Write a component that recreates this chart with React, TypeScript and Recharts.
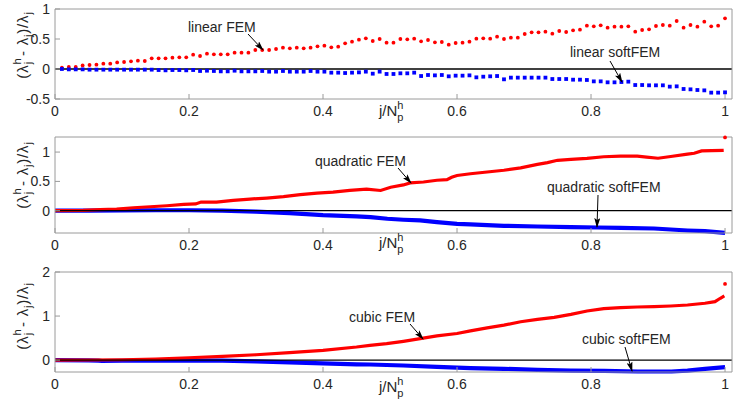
import React from 'react';
import {
  ComposedChart,
  Line,
  Scatter,
  XAxis,
  YAxis,
  ReferenceLine,
} from 'recharts';

// ---- panel 1: linear (97 eigenvalues, j/N = k/97) ----
const LIN_N = 97;
const LIN_FEM = [
  0.022, 0.033, 0.033, 0.06, 0.067, 0.072, 0.089, 0.089, 0.11, 0.117, 0.128, 0.139, 0.133, 0.178, 0.178, 0.178,
  0.189, 0.194, 0.194, 0.239, 0.217, 0.256, 0.244, 0.244, 0.244, 0.272, 0.272, 0.272, 0.317, 0.317, 0.317, 0.333,
  0.356, 0.344, 0.356, 0.344, 0.356, 0.378, 0.389, 0.361, 0.372, 0.428, 0.456, 0.489, 0.511, 0.467, 0.5, 0.439,
  0.439, 0.5, 0.494, 0.506, 0.461, 0.483, 0.444, 0.45, 0.406, 0.433, 0.439, 0.456, 0.506, 0.511, 0.506, 0.539, 0.5,
  0.522, 0.522, 0.583, 0.611, 0.611, 0.622, 0.589, 0.633, 0.617, 0.644, 0.656, 0.722, 0.711, 0.728, 0.689, 0.706,
  0.706, 0.711, 0.622, 0.65, 0.661, 0.717, 0.733, 0.722, 0.8, 0.689, 0.733, 0.706, 0.789, 0.711, 0.722, 0.844,
];
const LIN_SOFT = [
  0, -0.006, -0.006, -0.006, -0.011, -0.011, -0.011, -0.011, -0.011, -0.011, -0.011, -0.011, -0.011, -0.011, -0.017,
  -0.022, -0.017, -0.017, -0.022, -0.017, -0.033, -0.028, -0.033, -0.039, -0.039, -0.028, -0.039, -0.039, -0.039,
  -0.033, -0.044, -0.044,
  -0.033, -0.044, -0.044, -0.044, -0.033, -0.044, -0.044, -0.061, -0.061, -0.067, -0.061, -0.056, -0.044, -0.078,
  -0.044, -0.083, -0.083, -0.072, -0.072, -0.061, -0.117, -0.1, -0.106, -0.1, -0.122, -0.111, -0.111, -0.106,
  -0.139, -0.128, -0.122, -0.117, -0.172,
  -0.144, -0.144, -0.144, -0.144, -0.144, -0.144, -0.167, -0.167, -0.167, -0.178, -0.178, -0.183, -0.206, -0.206,
  -0.222, -0.222, -0.217, -0.211, -0.267, -0.267, -0.272, -0.272, -0.272, -0.294, -0.289, -0.333, -0.339, -0.35,
  -0.356, -0.394, -0.394, -0.389,
];

// ---- panel 2: quadratic ----
const QUAD_FEM_X = [
  0, 0.042, 0.067, 0.092, 0.117, 0.142, 0.167, 0.192, 0.21, 0.218, 0.241, 0.266, 0.291, 0.316, 0.341, 0.366, 0.391,
  0.415, 0.44, 0.465, 0.486, 0.501, 0.52, 0.53, 0.55, 0.57, 0.585, 0.592, 0.6, 0.62, 0.645, 0.67, 0.695, 0.72,
  0.735, 0.75, 0.77, 0.794, 0.819, 0.844, 0.869, 0.883, 0.9, 0.919, 0.944, 0.954, 0.965, 0.98, 0.998,
];
const QUAD_FEM = [
  0, 0.006, 0.017, 0.028, 0.051, 0.068, 0.085, 0.108, 0.115, 0.148, 0.148, 0.176, 0.199, 0.216, 0.239, 0.273, 0.301,
  0.318, 0.347, 0.369, 0.345, 0.4, 0.44, 0.474, 0.49, 0.52, 0.53, 0.57, 0.6, 0.63, 0.66, 0.69, 0.73, 0.79,
  0.82, 0.86, 0.874, 0.891, 0.92, 0.931, 0.931, 0.915, 0.895, 0.925, 0.966, 0.98, 1.02, 1.023, 1.03,
];
const QUAD_SOFT_X = [
  0, 0.05, 0.1, 0.15, 0.2, 0.25, 0.3, 0.35, 0.4, 0.45, 0.471, 0.496, 0.52, 0.545, 0.57, 0.6, 0.62, 0.67, 0.72, 0.77,
  0.81, 0.844, 0.894, 0.944, 0.97, 1.0,
];
const QUAD_SOFT = [
  0, 0.002, 0.005, 0.008, 0.008, 0.002, -0.017, -0.04, -0.075, -0.097, -0.109, -0.137, -0.154, -0.166, -0.194,
  -0.223, -0.234, -0.257, -0.269, -0.28, -0.286, -0.291, -0.303, -0.337, -0.349, -0.377,
];
const QUAD_LAST = [{ x: 1.0, y: 1.25 }];

// ---- panel 3: cubic ----
const CUB_FEM_X = [
  0, 0.05, 0.1, 0.15, 0.2, 0.25, 0.3, 0.35, 0.4, 0.45, 0.47, 0.495, 0.52, 0.545, 0.57, 0.6, 0.62, 0.645, 0.67,
  0.695, 0.72, 0.745, 0.77, 0.794, 0.819, 0.844, 0.869, 0.894, 0.919, 0.944, 0.97, 0.985, 0.993, 0.999,
];
const CUB_FEM = [
  0, 0.002, 0.008, 0.023, 0.053, 0.084, 0.122, 0.168, 0.221, 0.298, 0.336, 0.374, 0.427, 0.488, 0.549, 0.603, 0.664,
  0.733, 0.794, 0.87, 0.923, 0.969, 1.038, 1.114, 1.167, 1.19, 1.206, 1.213, 1.228, 1.251, 1.29, 1.328, 1.404, 1.457,
];
const CUB_SOFT_X = [
  0, 0.05, 0.065, 0.07, 0.1, 0.15, 0.2, 0.25, 0.3, 0.35, 0.4, 0.45, 0.47, 0.52, 0.57, 0.62, 0.67, 0.72, 0.77, 0.82,
  0.87, 0.92, 0.944, 0.97, 1.0,
];
const CUB_SOFT = [
  0, -0.005, -0.01, -0.02, -0.015, -0.01, -0.01, -0.01, -0.03, -0.05, -0.075, -0.095, -0.1, -0.122, -0.153, -0.183,
  -0.198, -0.221, -0.237, -0.244, -0.259, -0.259, -0.237, -0.198, -0.16,
];
const CUB_LAST = [{ x: 1.0, y: 1.73 }];

const X_TICKS = [0, 0.2, 0.4, 0.6, 0.8, 1];
const X_MAX = 1.0104;

const zip = (xs: number[], ys: number[]) => ys.map((y, i) => ({ x: xs[i], y }));
const linX = LIN_FEM.map((_, i) => (i + 1) / LIN_N);

const FONT = '"Liberation Sans", Arial, Helvetica, sans-serif';
const AXIS = '#9a9a9a';
const TXT = '#262626';
const RED = '#ff0000';
const BLUE = '#0000ff';

const noTick = () => <g />;

function axes(yDomain: number[], yTicks: number[]) {
  return [
    <XAxis
      key="xb"
      xAxisId={0}
      dataKey="x"
      type="number"
      domain={[0, X_MAX]}
      ticks={X_TICKS}
      height={25}
      stroke={AXIS}
      tickSize={-5}
      tickMargin={12}
      tick={{ fill: TXT, fontSize: 14, fontFamily: FONT }}
    />,
    <XAxis
      key="xt"
      xAxisId="top"
      dataKey="x"
      orientation="top"
      type="number"
      domain={[0, X_MAX]}
      ticks={X_TICKS}
      height={1}
      stroke={AXIS}
      tickSize={-5}
      tick={noTick}
    />,
    <YAxis
      key="yl"
      yAxisId={0}
      dataKey="y"
      type="number"
      domain={yDomain}
      ticks={yTicks}
      width={55}
      stroke={AXIS}
      tickSize={-5}
      tickMargin={10}
      tick={{ fill: TXT, fontSize: 14, fontFamily: FONT }}
    />,
    <YAxis
      key="yr"
      yAxisId="right"
      dataKey="y"
      orientation="right"
      type="number"
      domain={yDomain}
      ticks={yTicks}
      width={1}
      stroke={AXIS}
      tickSize={-5}
      tick={noTick}
    />,
  ];
}

const MARGIN = { top: 8, right: 5, left: 0, bottom: 6 };

function Panel1() {
  const fem = zip(linX, LIN_FEM);
  const soft = zip(linX, LIN_SOFT);
  return (
    <ComposedChart width={738} height={130} margin={MARGIN}>
      {axes([-0.5, 1], [-0.5, 0, 0.5, 1])}
      <Scatter
        data={fem}
        dataKey="y"
        isAnimationActive={false}
        shape={(p: any) => <circle cx={p.cx} cy={p.cy} r={1.9} fill={RED} />}
      />
      <Scatter
        data={soft}
        dataKey="y"
        isAnimationActive={false}
        shape={(p: any) => <rect x={p.cx - 1.9} y={p.cy - 1.9} width={3.8} height={3.8} fill={BLUE} />}
      />
      <ReferenceLine y={0} stroke="#000" strokeWidth={1.3} />
    </ComposedChart>
  );
}

function DensePanel({
  height,
  yDomain,
  yTicks,
  fem,
  soft,
  last,
}: {
  height: number;
  yDomain: number[];
  yTicks: number[];
  fem: { x: number; y: number }[];
  soft: { x: number; y: number }[];
  last: { x: number; y: number }[];
}) {
  return (
    <ComposedChart width={738} height={height} margin={MARGIN}>
      {axes(yDomain, yTicks)}
      <Line data={soft} dataKey="y" type="linear" stroke={BLUE} strokeWidth={4.2} dot={false} isAnimationActive={false} />
      <Line data={fem} dataKey="y" type="linear" stroke={RED} strokeWidth={3.2} dot={false} isAnimationActive={false} />
      <Scatter
        data={last}
        dataKey="y"
        isAnimationActive={false}
        shape={(p: any) => <circle cx={p.cx} cy={p.cy} r={1.9} fill={RED} />}
      />
      <ReferenceLine y={0} stroke="#000" strokeWidth={1.3} />
    </ComposedChart>
  );
}

function YLabel({ cx, cy }: { cx: number; cy: number }) {
  return (
    <text
      x={cx}
      y={cy}
      transform={`rotate(-90 ${cx} ${cy})`}
      textAnchor="middle"
      fontSize={15}
      letterSpacing={0.8}
      fontFamily={FONT}
      fill={TXT}
    >
      (λ
      <tspan dy={-7} fontSize={11}>h</tspan>
      <tspan dx={-6.6} dy={11} fontSize={11}>j</tspan>
      <tspan dy={-4}>{'  -  λ'}</tspan>
      <tspan dy={4} fontSize={11}>j</tspan>
      <tspan dy={-4}>)/λ</tspan>
      <tspan dy={4} fontSize={11}>j</tspan>
    </text>
  );
}

function XLabel({ x, y }: { x: number; y: number }) {
  return (
    <text x={x} y={y} fontSize={15} fontFamily={FONT} fill={TXT}>
      j/N
      <tspan dy={-7} fontSize={11}>h</tspan>
      <tspan dx={-6.1} dy={12} fontSize={11}>p</tspan>
    </text>
  );
}

function Note({ tx, ty, x1, y1, x2, y2, text }: any) {
  return (
    <g>
      <text x={tx} y={ty} fontSize={14} fontFamily={FONT} fill={TXT}>
        {text}
      </text>
      <line x1={x1} y1={y1} x2={x2} y2={y2} stroke="#000" strokeWidth={1} markerEnd="url(#arr)" />
    </g>
  );
}

export default function App() {
  return (
    <div style={{ position: 'absolute', left: 0, top: 0, width: 738, height: 409, background: '#fff' }}>
      <div style={{ position: 'absolute', left: 0, top: 0 }}>
        <Panel1 />
      </div>
      <div style={{ position: 'absolute', left: 0, top: 128 }}>
        <DensePanel
          height={136}
          yDomain={[-0.38, 1.257]}
          yTicks={[0, 0.5, 1]}
          fem={zip(QUAD_FEM_X, QUAD_FEM)}
          soft={zip(QUAD_SOFT_X, QUAD_SOFT)}
          last={QUAD_LAST}
        />
      </div>
      <div style={{ position: 'absolute', left: 0, top: 263 }}>
        <DensePanel
          height={140}
          yDomain={[-0.27, 2]}
          yTicks={[0, 1, 2]}
          fem={zip(CUB_FEM_X, CUB_FEM)}
          soft={zip(CUB_SOFT_X, CUB_SOFT)}
          last={CUB_LAST}
        />
      </div>
      <svg
        width={738}
        height={409}
        style={{ position: 'absolute', left: 0, top: 0, pointerEvents: 'none' }}
      >
        <defs>
          <marker id="arr" markerWidth="10" markerHeight="6" refX="9" refY="3" orient="auto" markerUnits="userSpaceOnUse">
            <path d="M0,0 L10,3 L0,6 L2,3 z" fill="#000" />
          </marker>
        </defs>
        <YLabel cx={28} cy={45} />
        <YLabel cx={28} cy={175} />
        <YLabel cx={28} cy={316} />
        <XLabel x={379} y={116} />
        <XLabel x={379} y={248} />
        <XLabel x={379} y={392} />
        <Note tx={188} ty={32} x1={248} y1={34} x2={263} y2={50} text="linear FEM" />
        <Note tx={570} ty={57} x1={610} y1={61} x2={622} y2={82} text="linear softFEM" />
        <Note tx={315} ty={166} x1={398} y1={168} x2={411} y2={183} text="quadratic FEM" />
        <Note tx={547} ty={192} x1={598} y1={195} x2={597} y2={227} text="quadratic softFEM" />
        <Note tx={349} ty={322} x1={410} y1={324} x2={423} y2={339} text="cubic FEM" />
        <Note tx={582} ty={344} x1={625} y1={347} x2={632} y2={371} text="cubic softFEM" />
      </svg>
    </div>
  );
}
